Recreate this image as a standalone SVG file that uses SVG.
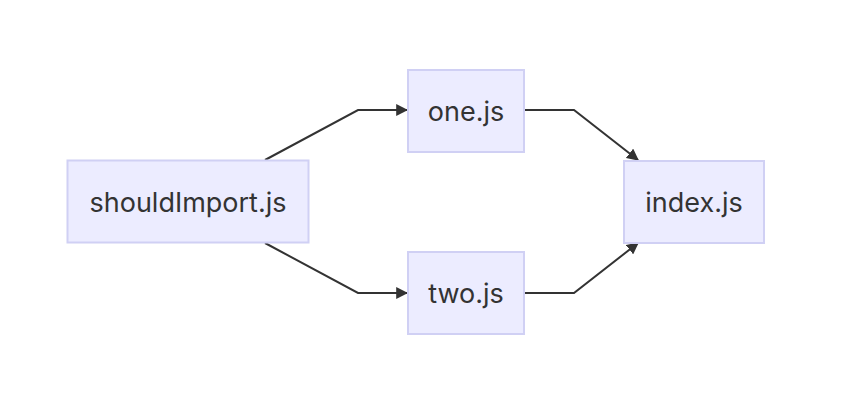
<svg xmlns="http://www.w3.org/2000/svg" width="864" height="406" viewBox="0 0 864 406">
<style>
.node rect{fill:#ECECFF;stroke:#D0D0F4;stroke-width:2}
.node text{font-family:Inter,"Noto Sans",sans-serif;font-size:27px;fill:#333;text-anchor:middle;dominant-baseline:central}
.edge{fill:none;stroke:#333;stroke-width:2}
</style>
<defs>
<marker id="arr" viewBox="0 0 10 10" refX="9" refY="5" markerUnits="userSpaceOnUse" markerWidth="12" markerHeight="12" orient="auto">
<path d="M0,0 L10,5 L0,10 z" fill="#333"/>
</marker>
</defs>
<rect width="864" height="406" fill="#fff"/>
<g id="connectors">
<path class="edge" d="M265,160 L358,110 L407,110" marker-end="url(#arr)"/>
<path class="edge" d="M265,243 L358,293 L407,293" marker-end="url(#arr)"/>
<path class="edge" d="M524,110 L574,110 L638,160" marker-end="url(#arr)"/>
<path class="edge" d="M524,293 L574,293 L638,243" marker-end="url(#arr)"/>
</g>
<g id="shouldImport" class="node">
<rect x="67.5" y="160.5" width="241" height="82"/>
<text x="188" y="202">shouldImport.js</text>
</g>
<g id="one" class="node">
<rect x="408" y="70" width="116" height="82"/>
<text x="466" y="111">one.js</text>
</g>
<g id="two" class="node">
<rect x="408" y="252" width="116" height="82"/>
<text x="466" y="293">two.js</text>
</g>
<g id="index" class="node">
<rect x="624" y="161" width="140" height="82"/>
<text x="694" y="202">index.js</text>
</g>
</svg>
